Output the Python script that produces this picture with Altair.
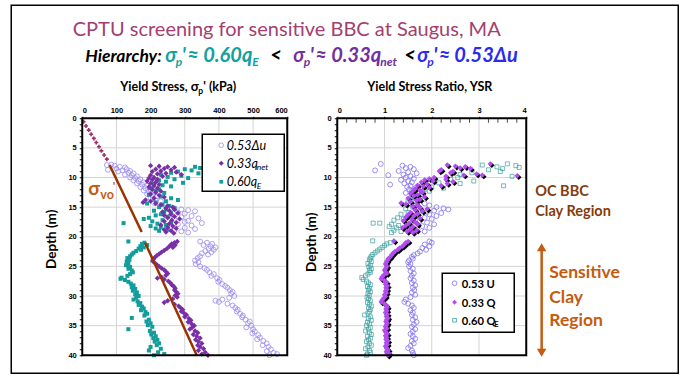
import altair as alt
import pandas as pd

FONT = "Lato"
AXFONT = "Liberation Sans"

# ---------------- data (depth m, value) ----------------
# Left panel: yield stress (kPa)
du_pts = [(7.8, 85), (7.9, 72), (8.0, 95), (8.2, 110), (8.3, 125), (8.5, 100), (8.6, 130), (8.7, 75), (8.8, 118), (8.9, 140),
          (9.0, 105), (9.2, 135), (9.3, 150), (9.5, 125), (9.6, 145), (9.8, 160), (10.0, 140), (10.1, 155), (10.3, 170),
          (10.5, 150), (10.6, 165), (10.8, 180), (11.0, 160), (11.2, 175), (11.4, 190), (11.6, 170), (11.8, 185), (12.0, 200),
          (12.2, 180), (12.4, 195), (12.6, 210), (12.8, 190), (13.0, 205), (13.2, 220), (13.5, 200), (13.8, 215), (14.0, 230),
          (14.3, 210), (14.6, 240), (15.0, 250), (15.2, 270), (15.4, 290), (15.5, 310), (15.7, 330), (15.9, 280), (16.1, 300),
          (16.3, 260), (16.5, 320), (16.7, 290), (16.9, 340), (17.1, 270), (17.3, 310), (17.5, 300), (17.7, 350), (17.9, 280),
          (18.1, 320), (18.3, 260), (18.5, 300), (18.7, 330), (18.9, 270), (19.1, 290), (19.3, 310),
          (20.8, 345), (21.0, 365), (21.2, 380), (21.4, 355), (21.6, 375), (21.8, 390), (22.0, 370), (22.2, 385), (22.4, 360),
          (22.6, 378), (22.8, 350), (23.0, 368), (23.3, 345), (23.6, 338), (24.0, 330), (24.3, 340), (24.6, 332), (25.0, 345),
          (25.3, 358), (25.6, 365), (26.0, 372), (26.3, 385), (26.6, 378), (27.0, 395), (27.3, 402), (27.6, 398), (28.0, 410),
          (28.3, 418), (28.6, 425), (29.0, 432), (29.3, 440), (29.6, 436), (30.0, 445), (30.3, 430), (30.6, 410), (30.8, 390),
          (31.0, 400), (31.3, 425), (31.6, 440), (32.0, 448), (32.3, 455), (32.6, 452), (33.0, 462), (33.3, 470), (33.6, 468),
          (34.0, 478), (34.3, 490), (34.6, 485), (35.0, 495), (35.3, 480), (35.6, 500), (36.0, 505), (36.3, 498), (36.6, 515),
          (37.0, 520), (37.3, 512), (37.6, 530), (38.0, 540), (38.3, 528), (38.6, 545), (39.0, 552), (39.3, 540), (39.6, 560),
          (39.8, 570), (40.0, 548)]
qnet_pts = [(8.0, 200), (8.1, 225), (8.2, 250), (8.3, 270), (8.5, 240), (8.6, 215), (8.7, 260), (8.9, 230), (9.0, 205),
            (9.1, 275), (9.3, 245), (9.4, 220), (9.5, 290), (9.6, 200), (9.8, 235), (10.0, 210), (10.1, 195), (10.3, 220),
            (10.4, 205), (10.6, 190), (10.8, 215), (11.0, 200), (11.2, 225), (11.4, 210), (11.6, 195), (11.8, 220), (12.0, 205),
            (12.3, 230), (12.5, 215), (12.8, 200), (13.0, 225), (13.3, 240), (13.5, 210), (13.8, 185), (14.0, 200), (14.2, 178),
            (14.4, 215), (14.6, 230), (14.8, 250), (15.0, 265), (15.2, 245), (15.4, 270), (15.6, 255), (15.8, 235), (16.0, 280),
            (16.2, 260), (16.4, 240), (16.6, 270), (16.8, 250), (17.0, 285), (17.2, 262), (17.4, 240), (17.6, 275), (17.8, 255),
            (18.0, 230), (18.2, 265), (18.4, 250), (18.6, 275), (18.8, 240), (19.0, 260), (19.2, 245), (19.4, 268),
            (20.8, 278), (21.0, 270), (21.2, 262), (21.4, 272), (21.6, 255), (21.8, 265), (22.0, 248), (22.3, 240), (22.6, 232),
            (22.9, 225), (23.2, 218), (23.5, 212), (23.8, 208), (24.1, 206), (24.4, 212), (24.7, 218), (25.0, 225), (25.3, 232),
            (25.6, 240), (25.9, 245), (26.2, 250), (26.5, 245), (26.8, 232), (27.0, 220), (27.2, 240), (27.5, 252), (27.8, 258),
            (28.1, 262), (28.4, 268), (28.7, 272), (29.0, 270), (29.3, 275), (29.6, 280), (29.9, 272), (30.2, 278), (30.5, 265),
            (30.8, 250), (31.1, 240), (31.4, 270), (31.7, 282), (32.0, 288), (32.3, 294), (32.6, 290), (32.9, 298), (33.2, 305),
            (33.5, 300), (33.8, 312), (34.1, 318), (34.4, 310), (34.7, 320), (35.0, 328), (35.3, 322), (35.6, 315), (35.9, 330),
            (36.2, 338), (36.5, 325), (36.8, 335), (37.1, 345), (37.4, 332), (37.7, 340), (38.0, 350), (38.3, 338), (38.6, 345),
            (38.9, 355), (39.2, 340), (39.5, 360), (39.8, 350), (40.0, 368)]
qe_pts = [(8.2, 330), (8.4, 345), (8.6, 300), (8.8, 320), (9.0, 280), (9.2, 260), (9.3, 340), (9.5, 230), (9.7, 290),
          (9.9, 250), (10.1, 310), (10.3, 270), (10.5, 225), (10.7, 245), (10.9, 295), (11.1, 210), (11.3, 235), (11.5, 260),
          (11.8, 200), (12.0, 225), (12.3, 215), (12.6, 240), (12.9, 195), (13.2, 230), (13.5, 260), (13.8, 280), (14.0, 245),
          (14.2, 215), (14.4, 190), (14.6, 235), (14.8, 255), (15.0, 225), (15.2, 270), (15.4, 245), (15.6, 210), (15.8, 240),
          (16.0, 260), (16.2, 230), (16.4, 215), (16.6, 250), (16.8, 195), (17.0, 180), (17.2, 235), (17.4, 205), (17.6, 260),
          (17.7, 121), (17.8, 220), (18.0, 245), (18.2, 200), (18.4, 230), (18.6, 215), (18.8, 250), (19.0, 225),
          (20.8, 135), (21.0, 182), (21.2, 175), (21.4, 190), (21.6, 170), (21.8, 180), (22.0, 165), (22.2, 172), (22.4, 158),
          (22.7, 150), (23.0, 145), (23.3, 140), (23.6, 132), (23.9, 138), (24.2, 130), (24.5, 135), (24.8, 128), (25.1, 140),
          (25.4, 135), (25.7, 145), (26.0, 148), (26.3, 140), (26.6, 132), (26.9, 115), (27.1, 112), (27.3, 125), (27.6, 135),
          (27.9, 142), (28.2, 150), (28.5, 145), (28.8, 155), (29.1, 148), (29.4, 160), (29.7, 155), (30.0, 165), (30.3, 158),
          (30.6, 150), (30.9, 162), (31.2, 170), (31.5, 165), (31.8, 175), (32.1, 180), (32.4, 172), (32.7, 185), (33.0, 190),
          (33.3, 182), (33.7, 145), (34.0, 195), (34.3, 188), (34.6, 200), (34.9, 192), (35.2, 205), (35.6, 135), (35.9, 198),
          (36.2, 210), (36.5, 202), (36.8, 215), (37.1, 208), (37.4, 220), (37.7, 212), (38.0, 225), (38.3, 218), (38.6, 200),
          (38.9, 230), (39.2, 195), (39.5, 222), (39.8, 240), (40.0, 210)]
svo_marks = [(0.6, 4), (1.3, 11), (2.0, 19), (2.7, 26), (3.4, 34), (4.1, 41), (4.8, 49), (5.5, 56), (6.2, 64), (6.9, 72)]
svo_line = [(7.9, 80, "a"), (19.2, 174, "a"), (21.0, 184, "b"), (40.0, 335, "b")]

# Right panel: yield stress ratio
u_pts = [(7.7, 0.92), (8.0, 1.38), (8.2, 1.55), (8.4, 1.45), (8.6, 1.62), (8.8, 0.8), (8.9, 1.3), (9.1, 1.5), (9.3, 1.68),
         (9.5, 1.4), (9.6, 1.08), (9.8, 1.55), (10.0, 1.45), (10.2, 1.62), (10.4, 1.35), (10.6, 1.5), (10.8, 1.58),
         (11.0, 1.42), (11.2, 1.12), (11.4, 1.55), (11.6, 1.48), (11.8, 1.65), (12.0, 1.52), (12.3, 1.58), (12.6, 1.45),
         (12.9, 1.62), (13.2, 1.7), (13.5, 1.55), (13.8, 1.75), (14.1, 1.6), (14.4, 1.85), (14.7, 1.95), (15.0, 2.1),
         (15.2, 2.25), (15.4, 2.35), (15.6, 2.05), (15.8, 1.9), (16.0, 2.2), (16.2, 1.95), (16.5, 2.1), (16.8, 1.85),
         (17.0, 2.0), (17.3, 1.75), (17.6, 1.9), (17.9, 2.05), (18.2, 1.8), (18.5, 1.95), (18.8, 1.7), (19.1, 1.85),
         (20.8, 1.95), (21.0, 2.0), (21.3, 1.85), (21.6, 1.95), (21.9, 1.8), (22.2, 1.88), (22.5, 1.75), (22.8, 1.7),
         (23.1, 1.62), (23.4, 1.58), (23.7, 1.6), (24.0, 1.52), (24.3, 1.5), (24.6, 1.55), (25.0, 1.52), (25.4, 1.6),
         (25.8, 1.55), (26.2, 1.62), (26.6, 1.58), (27.0, 1.55), (27.4, 1.62), (27.8, 1.58), (28.2, 1.65), (28.6, 1.6),
         (29.0, 1.63), (29.4, 1.58), (29.8, 1.65), (30.2, 1.55), (30.6, 1.45), (31.0, 1.42), (31.3, 1.5), (31.6, 1.58),
         (32.0, 1.62), (32.4, 1.55), (32.8, 1.6), (33.2, 1.58), (33.6, 1.65), (34.0, 1.6), (34.4, 1.68), (34.8, 1.62),
         (35.2, 1.58), (35.6, 1.65), (36.0, 1.6), (36.4, 1.55), (36.8, 1.6), (37.2, 1.65), (37.6, 1.58), (38.0, 1.62),
         (38.4, 1.55), (38.8, 1.5), (39.2, 1.58), (39.6, 1.6), (40.0, 1.62)]
q_pts = [(7.7, 3.24), (7.9, 2.33), (8.1, 2.5), (8.2, 2.71), (8.4, 2.6), (8.5, 2.82), (8.7, 2.2), (8.9, 2.16), (9.0, 2.45),
         (9.2, 2.4), (9.4, 2.95), (9.6, 3.07), (9.6, 2.68), (9.7, 3.81), (9.8, 2.3), (10.0, 2.05), (10.2, 1.95), (10.3, 2.3),
         (10.4, 1.85), (10.6, 2.03), (10.7, 2.45), (10.8, 1.78), (11.0, 2.33), (11.1, 1.9), (11.3, 1.7), (11.4, 2.2),
         (11.5, 1.82), (11.7, 1.95), (11.9, 1.65), (12.1, 1.75), (12.3, 1.6), (12.5, 1.8), (12.7, 1.55), (12.9, 1.7),
         (13.1, 1.62), (13.3, 1.85), (13.5, 1.5), (13.7, 1.75), (13.9, 1.68), (14.1, 1.55), (14.3, 1.35), (14.5, 1.45),
         (14.7, 1.7), (14.9, 1.6), (15.1, 1.75), (15.3, 1.9), (15.5, 1.65), (15.7, 1.8), (15.9, 1.55), (16.1, 1.7),
         (16.3, 1.5), (16.5, 1.62), (16.7, 1.45), (16.9, 1.75), (17.1, 1.58), (17.3, 1.4), (17.5, 1.65), (17.7, 1.52),
         (17.9, 1.7), (18.1, 1.45), (18.3, 1.6), (18.5, 1.38), (18.7, 1.55), (18.9, 1.68), (19.1, 1.48), (19.3, 1.6),
         (20.7, 1.2), (20.8, 1.5), (21.0, 1.45), (21.3, 1.42), (21.6, 1.38), (21.9, 1.32), (22.2, 1.28), (22.5, 1.22),
         (22.8, 1.18), (23.1, 1.15), (23.4, 1.12), (23.7, 1.08), (24.0, 1.06), (24.3, 1.04), (24.6, 1.02), (25.0, 1.05),
         (25.3, 1.03), (25.6, 1.0), (25.9, 1.02), (26.2, 1.05), (26.5, 0.98), (26.8, 0.95), (27.1, 0.93), (27.4, 1.0),
         (27.7, 1.04), (28.0, 1.02), (28.3, 1.06), (28.6, 1.03), (28.9, 1.05), (29.2, 1.02), (29.5, 1.04), (29.8, 1.0),
         (30.1, 1.02), (30.4, 0.98), (30.7, 0.95), (31.0, 0.93), (31.3, 1.0), (31.6, 1.04), (31.9, 1.06), (32.2, 1.03),
         (32.5, 1.05), (32.8, 1.02), (33.1, 1.06), (33.4, 1.04), (33.7, 1.07), (34.0, 1.05), (34.3, 1.03), (34.6, 1.06),
         (34.9, 1.04), (35.2, 1.02), (35.5, 1.05), (35.8, 1.0), (36.1, 1.03), (36.4, 1.06), (36.7, 1.02), (37.0, 1.05),
         (37.3, 1.03), (37.6, 1.07), (37.9, 1.04), (38.2, 1.06), (38.5, 1.02), (38.8, 1.05), (39.1, 1.08), (39.4, 1.04),
         (39.7, 1.1), (40.0, 1.07)]
qe2_pts = [(7.7, 3.6), (7.9, 3.07), (8.0, 3.78), (8.2, 3.38), (8.3, 3.85), (8.5, 3.5), (8.7, 3.2), (9.0, 3.45), (9.2, 2.85),
           (9.5, 2.6), (9.8, 3.7), (10.0, 2.55), (10.3, 2.4), (10.6, 2.89), (10.9, 2.15), (11.0, 2.6), (11.4, 3.52),
           (11.6, 2.0), (11.8, 2.25), (12.0, 1.85), (12.3, 1.95), (12.6, 1.7), (12.9, 1.8), (13.2, 1.6), (13.5, 1.75),
           (13.8, 1.5), (14.1, 1.65), (14.4, 1.55), (14.7, 1.7), (15.0, 1.6), (15.3, 1.45), (15.6, 1.75), (15.9, 1.5),
           (16.2, 1.35), (16.5, 1.62), (16.8, 1.28), (17.0, 1.4), (17.2, 1.2), (17.4, 1.5), (17.7, 0.76), (17.7, 0.9),
           (17.9, 1.15), (18.1, 1.3), (18.3, 1.1), (18.5, 1.25), (18.7, 1.45), (18.9, 1.2), (19.1, 1.35), (19.3, 1.15),
           (20.7, 0.75), (21.0, 1.12), (21.2, 1.05), (21.5, 1.0), (21.8, 0.95), (22.1, 0.9), (22.4, 0.85), (22.7, 0.8),
           (23.0, 0.75), (23.3, 0.72), (23.6, 0.7), (23.9, 0.68), (24.2, 0.72), (24.5, 0.65), (24.8, 0.7), (25.1, 0.67),
           (25.4, 0.72), (25.7, 0.68), (26.0, 0.7), (26.3, 0.65), (26.6, 0.6), (26.9, 0.52), (27.2, 0.55), (27.5, 0.62),
           (27.8, 0.66), (28.1, 0.7), (28.4, 0.64), (28.7, 0.68), (29.0, 0.66), (29.3, 0.7), (29.6, 0.65), (29.9, 0.68),
           (30.2, 0.63), (30.5, 0.66), (30.8, 0.7), (31.1, 0.64), (31.4, 0.68), (31.7, 0.72), (32.0, 0.66), (32.3, 0.7),
           (32.6, 0.68), (32.9, 0.65), (33.2, 0.58), (33.5, 0.7), (33.8, 0.66), (34.1, 0.72), (34.4, 0.64), (34.7, 0.68),
           (35.0, 0.62), (35.3, 0.7), (35.6, 0.66), (35.9, 0.6), (36.2, 0.68), (36.5, 0.72), (36.8, 0.64), (37.1, 0.7),
           (37.4, 0.66), (37.7, 0.62), (38.0, 0.68), (38.3, 0.72), (38.6, 0.65), (38.9, 0.6), (39.2, 0.68), (39.5, 0.7),
           (39.8, 0.64), (40.0, 0.62)]

stress_ticks = [0, 100, 200, 300, 400, 500, 600]
stress_grid = [100, 200, 300, 400, 500]
ysr_ticks = [0, 1, 2, 3, 4]
ysr_grid = [1, 2, 3]
ysr_minor = [0.2, 0.4, 0.6, 0.8, 1.2, 1.4, 1.6, 1.8, 2.2, 2.4, 2.6, 2.8, 3.2, 3.4, 3.6, 3.8]
depth_ticks = list(range(0, 41))
depth_grid = [5, 10, 15, 20, 25, 30, 35]

# ---------------- layout ----------------
LO = (82, 118)     # left plot-area origin in page pixels
RO = (337, 118)    # right plot-area origin
LW, RW, PH = 205, 189, 237

L_XS = alt.Scale(domain=[0, 600], nice=False, zero=False)
R_XS = alt.Scale(domain=[0, 4], nice=False, zero=False)
Y_S = alt.Scale(domain=[0, 40], nice=False, zero=False, reverse=True)

lab = dict(labelFont=AXFONT, labelFontWeight="bold", labelFontSize=7.5, labelColor="black",
           grid=False, domain=False, title=None, tickColor="black", labelOverlap=False)

L_XAX = alt.Axis(orient="top", values=stress_ticks, tickSize=2, labelPadding=2, **lab)
R_XAX = alt.Axis(orient="top", values=ysr_ticks, tickSize=2, labelPadding=2, **lab)
Y_AX = alt.Axis(orient="left", values=depth_ticks, tickSize=3, labelPadding=3,
                labelExpr="datum.value % 5 === 0 ? datum.label : ''", **lab)

dummy = pd.DataFrame({"a": [0]})


def txt(s, x, y, size, color="black", weight="normal", style="normal", o=LO, font=FONT, align="left",
        angle=0, baseline="alphabetic"):
    return alt.Chart(dummy).mark_text(text=s, fontSize=size, color=color, fontWeight=weight, fontStyle=style,
                                      font=font, align=align, baseline=baseline, angle=angle).encode(
        x=alt.value(x - o[0]), y=alt.value(y - o[1]))


def sym(x, y, shape, color, filled, size=26, stroke_w=1.0, o=LO):
    return alt.Chart(dummy).mark_point(shape=shape, filled=filled, color=color, size=size, opacity=1,
                                       strokeWidth=stroke_w).encode(x=alt.value(x - o[0]), y=alt.value(y - o[1]))


def box(x0, y0, x1, y1, o, fill="white", sw=1.5):
    return alt.Chart(dummy).mark_rect(fill=fill, fillOpacity=1 if fill != "none" else 0, stroke="black",
                                      strokeWidth=sw).encode(
        x=alt.value(x0 - o[0]), x2=alt.value(x1 - o[0]), y=alt.value(y0 - o[1]), y2=alt.value(y1 - o[1]))


def scatter(p, xs, xax, **mk):
    return alt.Chart(pd.DataFrame(p, columns=["d", "v"])).mark_point(opacity=1, **mk).encode(
        x=alt.X("v:Q", scale=xs, axis=xax), y=alt.Y("d:Q", scale=Y_S, axis=Y_AX))


def grids(xs, xax, grid_x, xmax):
    gv = alt.Chart(pd.DataFrame({"v": grid_x, "d0": 0, "d1": 40})).mark_rule(color="#D4D4D4", strokeWidth=1).encode(
        x=alt.X("v:Q", scale=xs, axis=xax), y=alt.Y("d0:Q", scale=Y_S, axis=Y_AX), y2="d1:Q")
    gh = alt.Chart(pd.DataFrame({"d": depth_grid, "v0": 0, "v1": xmax})).mark_rule(color="#D4D4D4", strokeWidth=1).encode(
        y=alt.Y("d:Q", scale=Y_S, axis=Y_AX), x=alt.X("v0:Q", scale=xs, axis=xax), x2="v1:Q")
    return [gv, gh]


def frame(xs, xax, xmax):
    return alt.Chart(pd.DataFrame({"v0": [0], "v1": [xmax], "d0": [0], "d1": [40]})).mark_rect(
        fillOpacity=0, stroke="black", strokeWidth=2).encode(
        x=alt.X("v0:Q", scale=xs, axis=xax), x2="v1:Q",
        y=alt.Y("d0:Q", scale=Y_S, axis=Y_AX), y2="d1:Q")


TEAL, PURP, BLUE = "#12A0A0", "#7030A0", "#2B2BEE"
ORANGE, BROWN = "#C55A11", "#843C0C"
C_DU, C_QN, C_QE = "#9B8AF2", "#7A2EA6", "#139C9C"
C_U, C_Q, C_QE2 = "#8272F0", "#B24CF0", "#3A9E9E"

# ---------------- left panel ----------------
svo_pts_layer = alt.Chart(pd.DataFrame(svo_marks, columns=["d", "v"])).mark_point(
    shape="cross", filled=True, color="#A0306A", size=16, opacity=1).encode(
    x=alt.X("v:Q", scale=L_XS, axis=L_XAX), y=alt.Y("d:Q", scale=Y_S, axis=Y_AX))
svo_line_layer = alt.Chart(pd.DataFrame(svo_line, columns=["d", "v", "seg"])).mark_line(
    color="#993300", strokeWidth=2.5).encode(
    x=alt.X("v:Q", scale=L_XS, axis=L_XAX), y=alt.Y("d:Q", scale=Y_S, axis=Y_AX), detail="seg:N", order="d:Q")

HY, HS = 62, 20
SUBY, SUBS = 66, 12
left_text = [
    txt("CPTU screening for sensitive BBC at Saugus, MA", 72.5, 36, 20, color="#A3406F"),
    txt("Hierarchy:", 85, HY, 17.5, weight="bold", style="italic"),
    txt("σ", 165, HY, HS, TEAL, "bold", "italic"), txt("p", 175.5, SUBY, SUBS, TEAL, "bold", "italic"),
    txt("'", 181.5, HY, HS, TEAL, "bold", "italic"), txt("≈", 187, HY, HS, TEAL, "bold", "italic"),
    txt("0.60q", 203, HY, HS, TEAL, "bold", "italic"), txt("E", 252, SUBY, SUBS, TEAL, "bold", "italic"),
    txt("<", 270, HY, HS, "black", "bold", "italic"),
    txt("σ", 293, HY, HS, PURP, "bold", "italic"), txt("p", 303.5, SUBY, SUBS, PURP, "bold", "italic"),
    txt("'", 309.5, HY, HS, PURP, "bold", "italic"), txt("≈", 315, HY, HS, PURP, "bold", "italic"),
    txt("0.33q", 331, HY, HS, PURP, "bold", "italic"), txt("net", 380, SUBY, SUBS, PURP, "bold", "italic"),
    txt("<", 404, HY, HS, "black", "bold", "italic"),
    txt("σ", 417, HY, HS, BLUE, "bold", "italic"), txt("p", 427, SUBY, SUBS, BLUE, "bold", "italic"),
    txt("'", 433, HY, HS, BLUE, "bold", "italic"), txt("≈", 438.5, HY, HS, BLUE, "bold", "italic"),
    txt("0.53Δu", 454, HY, HS, BLUE, "bold", "italic"),
    # axis title
    txt("Yield Stress,", 120, 91, 12.5, weight="bold"),
    txt("σ", 190.5, 91, 13, weight="bold"), txt("p", 198, 94, 8.5, weight="bold"),
    txt("' (kPa)", 203, 91, 12.5, weight="bold"),
    txt("Depth (m)", 52, 239, 13.5, weight="bold", align="center", angle=270, baseline="middle"),
    # sigma_vo' label
    txt("σ", 88, 195, 19, ORANGE, "bold"), txt("vo", 100, 198.5, 12.5, ORANGE, "bold"),
    txt("'", 112.5, 190, 12, ORANGE, "bold"),
    # legend
    box(202, 134, 284, 191, LO),
    sym(221, 145, "circle", C_DU, False, 22, 0.8),
    sym(221, 163, "diamond", C_QN, True, 26),
    sym(221, 181.5, "square", C_QE, True, 14),
    txt("0.53Δu", 226.5, 149.5, 12.5, style="italic"),
    txt("0.33q", 226.5, 167.5, 12.5, style="italic"), txt("net", 256.5, 170, 8.5, style="italic"),
    txt("0.60q", 226.5, 186, 12.5, style="italic"), txt("E", 256.5, 188.5, 8.5, style="italic"),
]

slide_border = box(11, 5, 678, 373, LO, fill="none", sw=1.5)

left = alt.layer(
    *grids(L_XS, L_XAX, stress_grid, 600),
    slide_border,
    scatter(du_pts, L_XS, L_XAX, shape="circle", filled=False, color=C_DU, size=24, strokeWidth=0.8),
    scatter(qe_pts, L_XS, L_XAX, shape="square", filled=True, color=C_QE, size=16),
    scatter(qnet_pts, L_XS, L_XAX, shape="diamond", filled=True, color=C_QN, size=28),
    svo_pts_layer, svo_line_layer,
    frame(L_XS, L_XAX, 600),
    *left_text,
).properties(width=LW, height=PH)

# ---------------- right panel ----------------
minor = alt.Chart(pd.DataFrame({"v": ysr_minor, "d": 0})).mark_tick(
    orient="vertical", size=5, thickness=1, color="black", yOffset=2).encode(
    x=alt.X("v:Q", scale=R_XS, axis=R_XAX), y=alt.Y("d:Q", scale=Y_S, axis=Y_AX))

right_text = [
    txt("Yield Stress Ratio, YSR", 367, 91, 12.5, weight="bold", o=RO),
    txt("Depth (m)", 312, 242, 13.5, weight="bold", align="center", angle=270, baseline="middle", o=RO),
    box(442, 273, 514, 332, RO),
    sym(454.3, 283, "circle", C_U, False, 22, 0.8, o=RO),
    sym(454.3, 302, "diamond", C_Q, True, 24, o=RO),
    sym(454.3, 320, "square", C_QE2, False, 14, 0.8, o=RO),
    txt("0.53 U", 461.5, 287.5, 11.2, weight="bold", o=RO),
    txt("0.33 Q", 461.5, 306.5, 11.2, weight="bold", o=RO),
    txt("0.60 Q", 461.5, 324.5, 11.2, weight="bold", o=RO), txt("E", 494, 327, 7.5, weight="bold", o=RO),
    txt("OC BBC", 535, 196, 14.5, BROWN, "bold", o=RO),
    txt("Clay Region", 535, 215.5, 14.5, BROWN, "bold", o=RO),
    txt("Sensitive", 549, 278, 17.5, ORANGE, "bold", o=RO),
    txt("Clay", 549, 303, 17.5, ORANGE, "bold", o=RO),
    txt("Region", 549, 325.5, 17.5, ORANGE, "bold", o=RO),
    alt.Chart(dummy).mark_rule(color=ORANGE, strokeWidth=2.5).encode(
        x=alt.value(541.4 - RO[0]), y=alt.value(248 - RO[1]), y2=alt.value(352 - RO[1])),
    sym(541.4, 247, "triangle-up", ORANGE, True, size=90, o=RO),
    sym(541.4, 352.5, "triangle-down", ORANGE, True, size=90, o=RO),
]

right = alt.layer(
    *grids(R_XS, R_XAX, ysr_grid, 4),
    scatter(u_pts, R_XS, R_XAX, shape="circle", filled=False, color=C_U, size=24, strokeWidth=0.8),
    scatter(qe2_pts, R_XS, R_XAX, shape="square", filled=False, color=C_QE2, size=16, strokeWidth=0.7),
    scatter(q_pts, R_XS, R_XAX, shape="diamond", filled=True, color="black", size=30, xOffset=1.5, yOffset=1.5),
    scatter(q_pts, R_XS, R_XAX, shape="diamond", filled=True, color=C_Q, size=30),
    minor,
    frame(R_XS, R_XAX, 4),
    *right_text,
).properties(width=RW, height=PH)

chart = alt.hconcat(left, right, spacing=RO[0] - LO[0] - LW, bounds="flush").properties(
    padding={"left": 10.25, "top": 4.25, "right": 5, "bottom": 5},
    background="white",
).configure_view(stroke=None)

chart.save("out.html", embed_options={"renderer": "svg", "actions": False})
